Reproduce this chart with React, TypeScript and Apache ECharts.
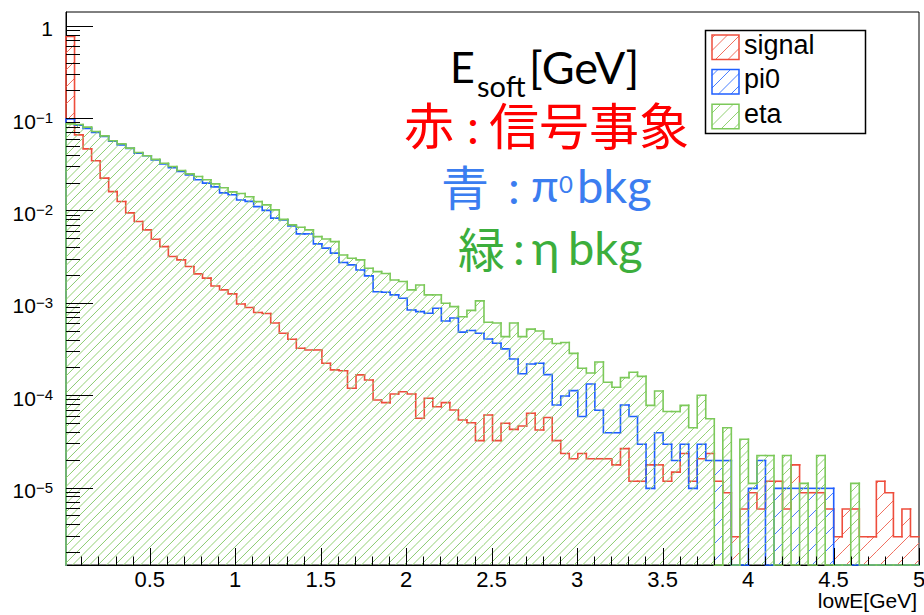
import React, { useEffect, useRef } from 'react';
import * as echarts from 'echarts';

// ---- binning / axis ranges ----
const X_MIN = 0.01;
const X_MAX = 5.0;
const N_BINS = 100;
const Y_MIN = 1.45e-6;
const Y_MAX = 1.41;

// ---- histogram contents (normalised) ----
const signal = [
  0.766, 0.0659, 0.0465, 0.0345, 0.0224, 0.016, 0.0125, 0.00942, 0.00759, 0.00617,
  0.00489, 0.00406, 0.00317, 0.00292, 0.00247, 0.00206, 0.00185, 0.00152, 0.00138, 0.00125,
  9.73e-4, 8.91e-4, 7.87e-4, 7.67e-4, 6.05e-4, 4.69e-4, 4.03e-4, 3.22e-4, 3.09e-4, 3.09e-4,
  2.22e-4, 1.88e-4, 1.84e-4, 1.19e-4, 1.66e-4, 1.46e-4, 8.87e-5, 8.3e-5, 1.03e-4, 1.09e-4,
  1.03e-4, 5.62e-5, 9.25e-5, 7.5e-5, 8.3e-5, 6.92e-5, 5.38e-5, 5.04e-5, 3.22e-5, 6.1e-5,
  3.22e-5, 4.97e-5, 4.27e-5, 4.64e-5, 6.37e-5, 4.2e-5, 5.73e-5, 3.22e-5, 2.34e-5, 2.05e-5,
  2.34e-5, 2.05e-5, 2.05e-5, 2.05e-5, 1.76e-5, 2.64e-5, 1.17e-5, 1.17e-5, 1.76e-5, 1.76e-5,
  1.17e-5, 1.47e-5, 2.34e-5, 1.17e-5, 2.05e-5, 2.34e-5, 1.17e-5, 8.79e-6, 2.93e-6, 5.86e-6,
  8.79e-6, 5.86e-6, 1.17e-5, 1.17e-5, 5.86e-6, 1.76e-5, 8.79e-6, 8.79e-6, 8.79e-6, 5.86e-6,
  2.93e-6, 5.86e-6, 5.86e-6, 2.93e-6, 2.93e-6, 1.17e-5, 8.79e-6, 2.93e-6, 5.86e-6, 2.93e-6,
];

const pi0 = [
  0.0982, 0.0836, 0.0775, 0.0702, 0.0635, 0.0561, 0.0514, 0.0471, 0.0418, 0.0391,
  0.0353, 0.032, 0.029, 0.0264, 0.0243, 0.0215, 0.0198, 0.018, 0.0155, 0.0148,
  0.013, 0.01256, 0.01102, 0.01002, 0.00826, 0.00791, 0.00681, 0.00558, 0.00558, 0.00435,
  0.00391, 0.00345, 0.00273, 0.00258, 0.00227, 0.00196, 0.00132, 0.0013, 0.00122, 0.00112,
  8.38e-4, 8.03e-4, 7.71e-4, 8.74e-4, 6.37e-4, 6.86e-4, 4.82e-4, 5.02e-4, 4.69e-4, 4.06e-4,
  3.65e-4, 3.17e-4, 2.47e-4, 1.71e-4, 2.18e-4, 2.22e-4, 1.67e-4, 7.84e-5, 9.8e-5, 1.12e-4,
  5.88e-5, 1.32e-4, 6.86e-5, 3.92e-5, 3.92e-5, 7.84e-5, 5.88e-5, 2.94e-5, 9.8e-6, 3.92e-5,
  2.94e-5, 1.96e-5, 2.94e-5, 9.8e-6, 2.94e-5, 1.96e-5, 1.96e-5, 1.96e-5, 0, 0,
  9.8e-6, 1.96e-5, 0, 9.8e-6, 9.8e-6, 9.8e-6, 9.8e-6, 9.8e-6, 9.8e-6, 9.8e-6,
  0, 0, 0, 0, 0, 0, 0, 0, 0, 0,
];

const eta = [
  0.0867, 0.0853, 0.0799, 0.0716, 0.0643, 0.0568, 0.0527, 0.0473, 0.0424, 0.0391,
  0.0358, 0.0325, 0.0299, 0.0271, 0.0249, 0.0233, 0.0215, 0.0194, 0.0176, 0.0159,
  0.0153, 0.0141, 0.01248, 0.0115, 0.01016, 0.00801, 0.00698, 0.00659, 0.00617, 0.00521,
  0.00492, 0.0046, 0.0033, 0.00304, 0.00292, 0.00237, 0.00218, 0.00208, 0.00177, 0.0017,
  0.00138, 0.00156, 0.00122, 0.00122, 9.9e-4, 9.1e-4, 7.08e-4, 8.28e-4, 1.05e-3, 6.16e-4,
  6.05e-4, 4.31e-4, 6.05e-4, 4.31e-4, 5.19e-4, 4.96e-4, 4.06e-4, 3.63e-4, 3.72e-4, 2.84e-4,
  1.96e-4, 1.74e-4, 2.29e-4, 1.38e-4, 1.22e-4, 1.55e-4, 1.77e-4, 1.6e-4, 7.76e-5, 1.11e-4,
  6.65e-5, 6.65e-5, 7.76e-5, 4.44e-5, 9.98e-5, 5.55e-5, 0, 4.44e-5, 0, 3.33e-5,
  1.11e-5, 2.22e-5, 2.22e-5, 0, 2.22e-5, 0, 1.11e-5, 0, 2.22e-5, 0,
  0, 0, 1.11e-5, 0, 0, 0, 0, 0, 0, 0,
];

const seriesNames = ['signal', 'pi0', 'eta'];
const xTickLabels = [0.5, 1, 1.5, 2, 2.5, 3, 3.5, 4, 4.5, 5];
const yTickLabels = [1, 1e-1, 1e-2, 1e-3, 1e-4, 1e-5];
const xAxisTitle = 'lowE[GeV]';

// ---- styles ----
const LINE: Record<string, string> = { signal: '#ee4d3c', pi0: '#1f5fff', eta: '#7cc95a' };
const HATCH: Record<string, string> = { signal: '#f0705f', pi0: '#4a80ff', eta: '#92d173' };
// red/blue hatches share the green lattice (every 2nd line), so green drawn last hides them
const SPACING: Record<string, number> = { signal: 17, pi0: 17, eta: 8.5 };
const LEGEND_SPACING = 17;
const HELV = "'Liberation Sans', Arial, sans-serif";
const LATO = "Lato, 'Noto Sans CJK JP', sans-serif";
const CJKF = "'Liberation Sans', 'Noto Sans CJK JP', sans-serif";

const BIN_W = (X_MAX - X_MIN) / N_BINS;
const histData = (vals: number[]) =>
  vals.map((v, i) => [X_MIN + i * BIN_W, X_MIN + (i + 1) * BIN_W, v, i > 0 ? vals[i - 1] : 0]);

// 45-degree hatch segments, globally aligned, clipped to a rectangle
function hatchSegments(x0: number, x1: number, yt: number, yb: number, spacing: number) {
  const segs: number[][] = [];
  for (let k = Math.ceil((x0 + yt) / spacing); k * spacing <= x1 + yb; k++) {
    const c = k * spacing;
    const xa = Math.max(x0, c - yb);
    const xb = Math.min(x1, c - yt);
    if (xb - xa > 0.05) segs.push([xa, c - xa, xb, c - xb]);
  }
  return segs;
}

function hatchPolylines(x0: number, x1: number, yt: number, yb: number, spacing: number, color: string, z?: number) {
  return hatchSegments(x0, x1, yt, yb, spacing).map((s) => {
    const el: any = {
      type: 'polyline',
      silent: true,
      shape: { points: [[s[0], s[1]], [s[2], s[3]]] },
      style: { fill: 'none', stroke: color, lineWidth: 1, lineCap: 'butt' },
    };
    if (z !== undefined) el.z = z;
    return el;
  });
}

function makeHistRenderer(lineColor: string, hatchColor: string, spacing: number) {
  return (params: any, api: any) => {
    const cs = params.coordSys;
    const bottom = cs.y + cs.height;
    const top = cs.y;
    const lo = api.value(0);
    const hi = api.value(1);
    const v = api.value(2);
    const vp = api.value(3);
    const yPix = (val: number) =>
      val > 0 ? Math.max(top, Math.min(bottom, api.coord([lo, val])[1])) : bottom;
    const x0 = api.coord([lo, Y_MAX])[0];
    const x1 = api.coord([hi, Y_MAX])[0];
    const yt = yPix(v);
    const yp = yPix(vp);
    const children: any[] = [];
    if (bottom - yt > 0.5) children.push(...hatchPolylines(x0, x1, yt, bottom, spacing, hatchColor));
    children.push({
      type: 'polyline',
      shape: { points: [[x0, yp], [x0, yt], [x1, yt]] },
      style: { fill: 'none', stroke: lineColor, lineWidth: 1.6, lineCap: 'square' },
    });
    return { type: 'group', children };
  };
}

// tick marks (ROOT style: inside, log minor ticks at 2..9)
const xMinorTicks: number[] = [];
for (let k = 1; k < 50; k++) if (k % 5 !== 0) xMinorTicks.push(k / 10);
const yMinorTicks: number[] = [];
for (let e = -6; e <= 0; e++) {
  for (let m = 2; m <= 9; m++) {
    const t = m * Math.pow(10, e);
    if (t > Y_MIN && t < Y_MAX) yMinorTicks.push(t);
  }
}
const tickData = [
  ...xTickLabels.map((t) => [t, Y_MAX, 17, 0]),
  ...xMinorTicks.map((t) => [t, Y_MAX, 8.5, 0]),
  ...yTickLabels.map((t) => [X_MIN, t, 27, 1]),
  ...yMinorTicks.map((t) => [X_MIN, t, 14, 1]),
];

function txt(text: string, x: number, y: number, size: number, color: string, family: string, align = 'left') {
  return {
    type: 'text',
    z: 30,
    x,
    y,
    style: {
      text,
      fontSize: size,
      fontFamily: family,
      fill: color,
      align,
      textAlign: align,
      verticalAlign: 'middle',
      textVerticalAlign: 'middle',
    },
  };
}

export default function App() {
  const ref = useRef<HTMLDivElement>(null);
  useEffect(() => {
    if (!ref.current) return;
    const chart = echarts.init(ref.current, null, { renderer: 'svg' });

    const legendEls: any[] = [
      {
        type: 'rect',
        z: 15,
        shape: { x: 705.5, y: 30.5, width: 160, height: 103 },
        style: { fill: '#fff', stroke: '#000', lineWidth: 1.5 },
      },
    ];
    seriesNames.forEach((name, i) => {
      const sy = 35 + i * 34.6;
      legendEls.push(...hatchPolylines(712, 739, sy, sy + 24.5, LEGEND_SPACING / 2 + 4, HATCH[name], 20));
      legendEls.push({
        type: 'rect',
        z: 21,
        shape: { x: 712, y: sy, width: 27, height: 24.5 },
        style: { fill: 'none', stroke: LINE[name], lineWidth: 1.5 },
      });
      legendEls.push(txt(name, 744, sy + 9.5, 27, '#000', HELV));
    });

    const overlay = [
      txt('E', 450, 66.7, 43, '#000', LATO),
      txt('soft', 477, 85.5, 29, '#000', LATO),
      txt('[GeV]', 529, 66.7, 45, '#000', LATO),
      txt('赤', 404, 128.3, 50, '#ff0000', CJKF),
      txt(':', 467, 125.4, 48, '#ff0000', LATO),
      txt('信号事象', 489, 128.3, 50, '#ff0000', CJKF),
      txt('青', 441, 189.9, 48, '#3b7df0', CJKF),
      txt(':', 508, 186.4, 47, '#3b7df0', LATO),
      txt('π', 531, 185.3, 45, '#3b7df0', LATO),
      txt('0', 559, 183, 24, '#3b7df0', LATO),
      txt('bkg', 577, 185.3, 47, '#3b7df0', LATO),
      txt('緑', 458, 250.7, 47, '#3cae3c', CJKF),
      txt(':', 513, 246.8, 47, '#3cae3c', LATO),
      txt('η', 532, 246.8, 47, '#3cae3c', LATO),
      txt('bkg', 568, 246.8, 47, '#3cae3c', LATO),
      txt(xAxisTitle, 917, 600.7, 21, '#000', HELV, 'right'),
    ];

    const hists = [
      { name: 'signal', vals: signal },
      { name: 'pi0', vals: pi0 },
      { name: 'eta', vals: eta },
    ];

    const histSeries = hists.map((s, idx) => ({
      type: 'custom',
      name: s.name,
      z: 3 + idx,
      silent: true,
      clip: false,
      encode: { x: [0, 1], y: 2 },
      data: histData(s.vals),
      renderItem: makeHistRenderer(LINE[s.name], HATCH[s.name], SPACING[s.name]),
    }));

    const option: any = {
      animation: false,
      backgroundColor: '#ffffff',
      grid: {
        left: 66,
        right: 5,
        top: 12,
        bottom: 50,
        show: true,
        borderColor: '#000',
        borderWidth: 1,
        backgroundColor: 'transparent',
        containLabel: false,
        outerBoundsMode: 'none',
      },
      xAxis: {
        type: 'value',
        min: X_MIN,
        max: X_MAX,
        splitNumber: 10,
        minInterval: 0.5,
        maxInterval: 0.5,
        axisLine: { show: true, onZero: false, lineStyle: { color: '#000', width: 1 } },
        axisTick: { show: false },
        minorTick: { show: false },
        splitLine: { show: false },
        axisLabel: {
          margin: 3,
          fontSize: 22,
          fontFamily: HELV,
          color: '#000',
          showMinLabel: true,
          showMaxLabel: true,
          formatter: (v: number) => {
            const hit = xTickLabels.find((t) => Math.abs(t - v) < 1e-6);
            return hit !== undefined ? String(hit) : '';
          },
        },
      },
      yAxis: {
        type: 'log',
        logBase: 10,
        min: Y_MIN,
        max: Y_MAX,
        axisLine: { show: true, onZero: false, lineStyle: { color: '#000', width: 1 } },
        axisTick: { show: false },
        minorTick: { show: false },
        splitLine: { show: false },
        axisLabel: {
          margin: 13,
          padding: [6, 0, 0, 0],
          color: '#000',
          fontFamily: HELV,
          fontSize: 21,
          formatter: (v: number) => {
            const hit = yTickLabels.find((t) => Math.abs(Math.log10(t) - Math.log10(v)) < 1e-6);
            if (hit === undefined) return '';
            const e = Math.round(Math.log10(hit));
            if (e === 0) return '{b|1}';
            return `{b|10}{s|\u2212${-e}}`;
          },
          rich: {
            b: { fontSize: 21, fontFamily: HELV, color: '#000', lineHeight: 22 },
            s: { fontSize: 15, fontFamily: HELV, color: '#000', lineHeight: 15, verticalAlign: 'top' },
          },
        },
      },
      series: [
        ...histSeries,
        {
          type: 'custom',
          name: 'ticks',
          z: 10,
          silent: true,
          clip: false,
          encode: { x: 0, y: 1 },
          data: tickData,
          renderItem: (params: any, api: any) => {
            const cs = params.coordSys;
            const len = api.value(2);
            if (api.value(3) === 0) {
              const x = Math.round(api.coord([api.value(0), Y_MAX])[0]) + 0.5;
              const yb = cs.y + cs.height;
              return {
                type: 'polyline',
                shape: { points: [[x, yb], [x, yb - len]] },
                style: { fill: 'none', stroke: '#000', lineWidth: 1 },
              };
            }
            const y = Math.round(api.coord([X_MIN, api.value(1)])[1]) + 0.5;
            return {
              type: 'polyline',
              shape: { points: [[cs.x, y], [cs.x + len, y]] },
              style: { fill: 'none', stroke: '#000', lineWidth: 1 },
            };
          },
        },
      ],
      graphic: [...legendEls, ...overlay],
    };

    chart.setOption(option);
    return () => chart.dispose();
  }, []);

  return (
    <div
      ref={ref}
      style={{ position: 'fixed', left: 0, top: 0, width: 924, height: 615, background: '#fff' }}
    />
  );
}
